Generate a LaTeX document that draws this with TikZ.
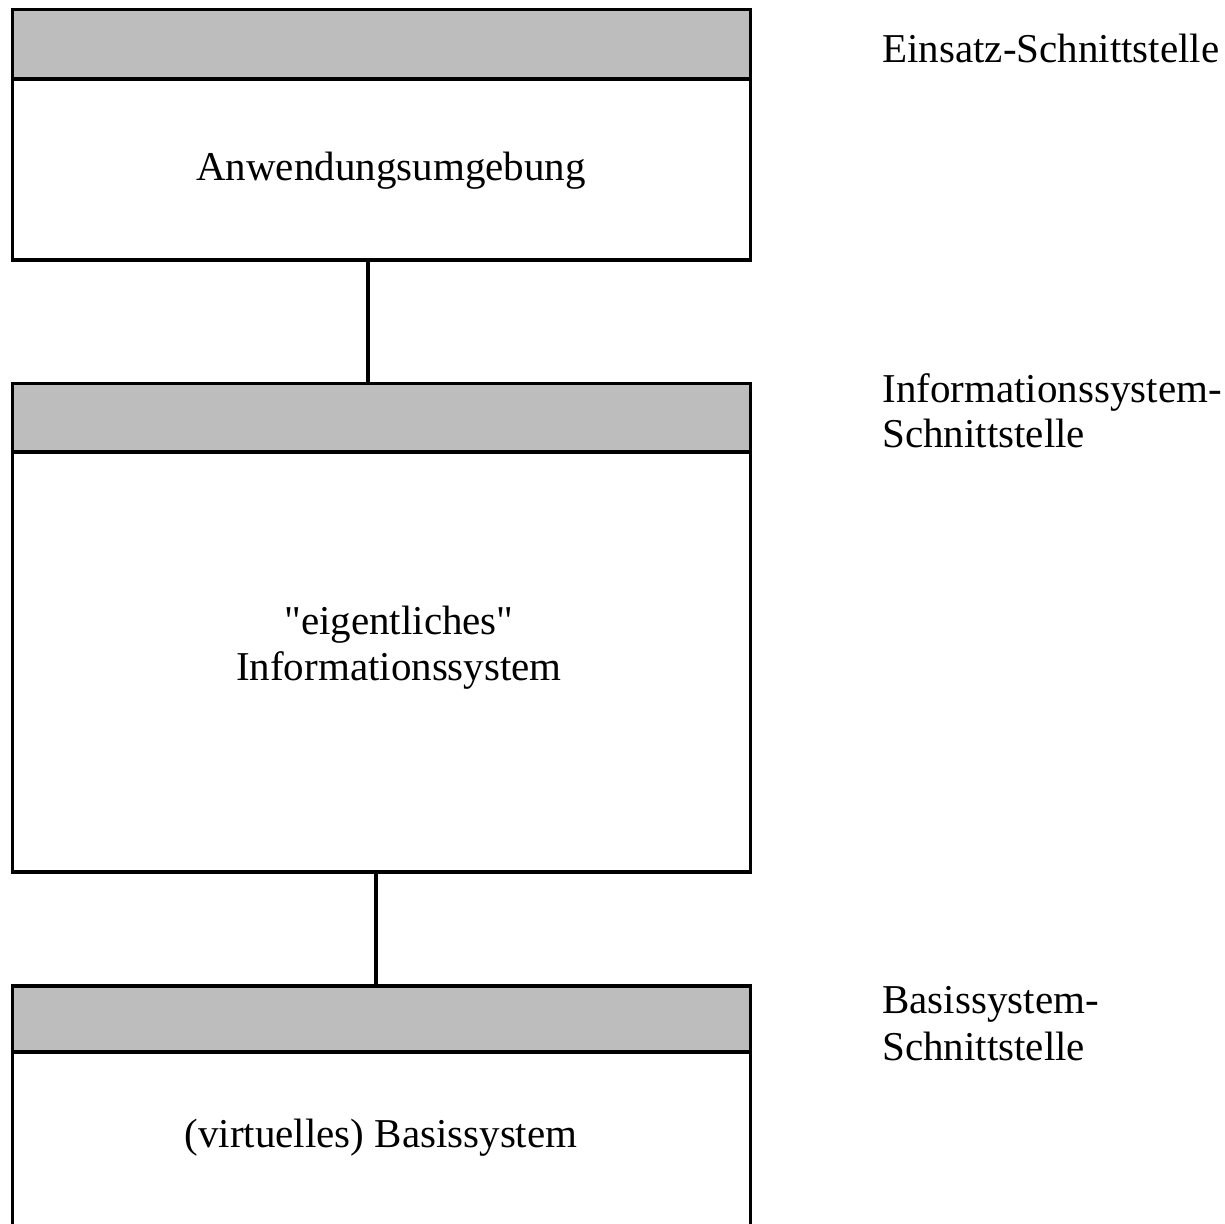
\documentclass[tikz,border=0pt]{standalone}
\usepackage{fontspec}
\setmainfont{Liberation Serif}
% same face without TeX input mapping, so " stays a straight quote
\newfontfamily\plainserif{Liberation Serif}
\usetikzlibrary{calc}
\begin{document}
\begin{tikzpicture}[x=0.5pt,y=-0.5pt,
  frame/.style={draw=black,line width=1.9pt,inner sep=0pt,minimum width=369pt},
  header/.style={frame,fill=black!26},
  label/.style={inner sep=0pt,font=\fontsize{20.5}{23}\selectfont},
  conn/.style={line width=1.9pt}]
\useasboundingbox (0,0) rectangle (1225,1223);

% layer 1: application environment
\node[header,minimum height=34.75pt] (h1) at (381.5,44.25) {};
\node[frame,minimum height=90.5pt]   (b1) at (381.5,169.5) {};
% layer 2: information system
\node[header,minimum height=34.25pt] (h2) at (381.5,417.75) {};
\node[frame,minimum height=210pt]    (b2) at (381.5,662) {};
% layer 3: base system (runs past the lower edge)
\node[header,minimum height=33pt]    (h3) at (381.5,1019) {};
\node[frame,minimum height=104pt]    (b3) at (381.5,1156) {};

% connectors between the layers
\draw[conn] ($(b1.south)+(-13.5,0)$) -- ($(h2.north)+(-13.5,0)$);
\draw[conn] ($(b2.south)+(-5.5,0)$) -- ($(h3.north)+(-5.5,0)$);

% box texts
\node[label,anchor=base] (t1)  at (391,180) {Anwendungsumgebung};
\node[label,anchor=base] (t2a) at (399,634) {\plainserif "eigentliches"};
\node[label,anchor=base] (t2b) at (399,680) {Informationssystem};
\node[label,anchor=base] (t3)  at (381,1147) {(virtuelles) Basissystem};

% interface labels
\node[label,anchor=base west] (l1)  at (882,62)   {Einsatz-Schnittstelle};
\node[label,anchor=base west] (l2a) at (882,402)  {Informationssystem-};
\node[label,anchor=base west] (l2b) at (882,447)  {Schnittstelle};
\node[label,anchor=base west] (l3a) at (882,1013) {Basissystem-};
\node[label,anchor=base west] (l3b) at (882,1060) {Schnittstelle};
\end{tikzpicture}
\end{document}
